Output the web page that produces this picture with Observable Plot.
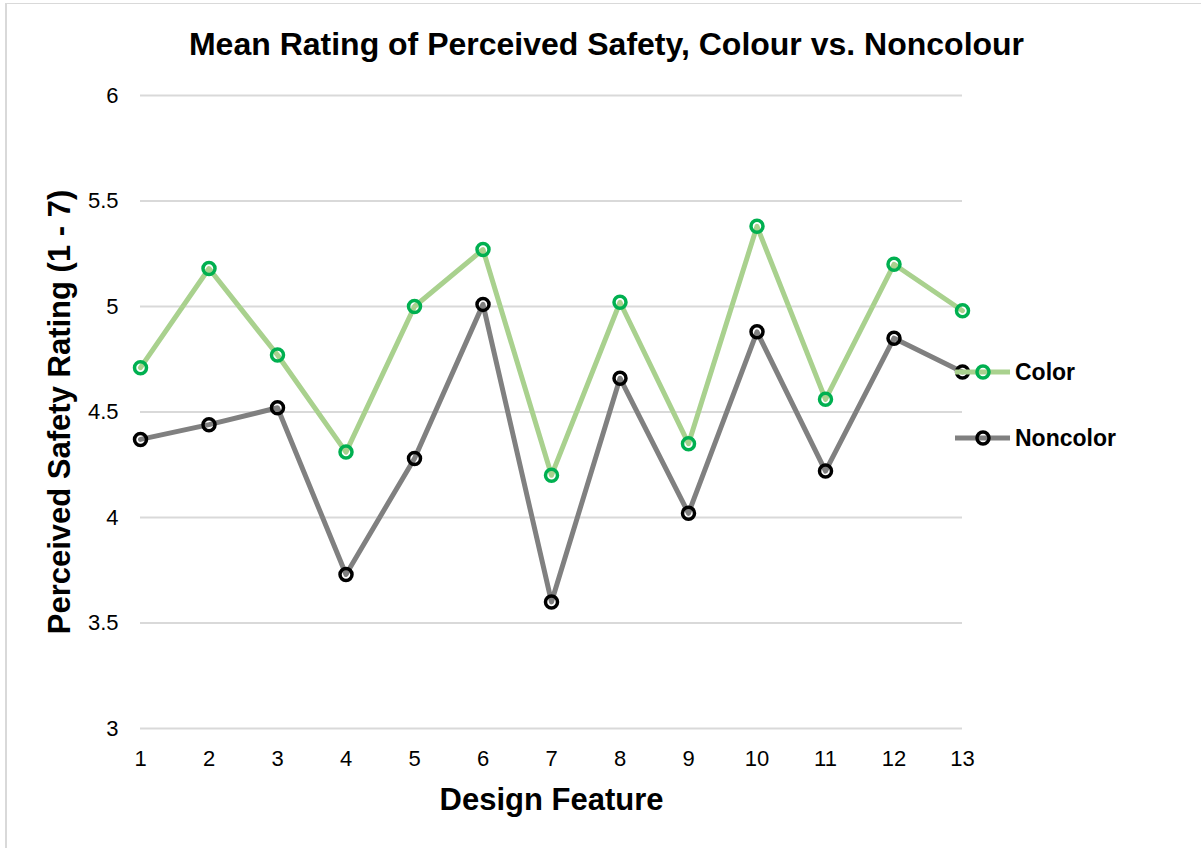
<!DOCTYPE html>
<html>
<head>
<meta charset="utf-8">
<script src="https://cdn.jsdelivr.net/npm/d3@7"></script>
<script src="https://cdn.jsdelivr.net/npm/@observablehq/plot@0.6"></script>
<style>
  html, body { margin: 0; padding: 0; background: #fff; }
  #chart { position: relative; width: 1201px; height: 848px; overflow: hidden;
           font-family: "Liberation Sans", Arial, Helvetica, sans-serif; }
  #frame { position: absolute; left: 5px; top: 3px; right: -10px; bottom: -10px;
           border-top: 1px solid #d9d9d9; border-left: 2px solid #d9d9d9; }
  #title { position: absolute; left: 0; width: 1213px; top: 26px; text-align: center;
           font-size: 32px; font-weight: bold; color: #000; line-height: 36px; }
  #plot { position: absolute; left: 0; top: 0; }
  #legend { position: absolute; left: 953px; top: 0; }
  .item { position: absolute; left: 0; display: flex; align-items: center; white-space: nowrap;
          font-size: 23px; font-weight: bold; color: #000; height: 30px; }
  .item svg { margin-right: 2px; }
</style>
</head>
<body>
<div id="chart">
  <div id="frame"></div>
  <div id="plot"></div>
  <div id="title">Mean Rating of Perceived Safety, Colour vs. Noncolour</div>
  <div id="legend"></div>
</div>
<script>
// Design features 1–13 and mean perceived-safety ratings (scale 1–7)
const features = [1, 2, 3, 4, 5, 6, 7, 8, 9, 10, 11, 12, 13];
const colorRatings    = [4.71, 5.18, 4.77, 4.31, 5.00, 5.27, 4.20, 5.02, 4.35, 5.38, 4.56, 5.20, 4.98];
const noncolorRatings = [4.37, 4.44, 4.52, 3.73, 4.28, 5.01, 3.60, 4.66, 4.02, 4.88, 4.22, 4.85, 4.69];
const yTicks = [3, 3.5, 4, 4.5, 5, 5.5, 6];

const series = [
  {name: "Color",    values: colorRatings,    line: "#a9d18e", marker: "#00b050"},
  {name: "Noncolor", values: noncolorRatings, line: "#808080", marker: "#000000"}
];

const rows = s => features.map((f, i) => ({feature: f, rating: s.values[i]}));

const marks = [
  Plot.gridY(yTicks, {stroke: "#d9d9d9", strokeOpacity: 1, strokeWidth: 2}),
  Plot.axisY(yTicks, {tickSize: 0, tickPadding: 22, fontSize: 22, label: null, tickFormat: d => String(d)}),
  Plot.axisX(features, {tickSize: 0, tickPadding: 22, fontSize: 22, label: null, tickFormat: d => String(d)}),
  Plot.text(["Perceived Safety Rating (1 - 7)"], {frameAnchor: "left", textAnchor: "middle", rotate: -90, dx: -80,
    fontSize: 31, fontWeight: "bold", fill: "#000"}),
  Plot.text(["Design Feature"], {frameAnchor: "bottom", dy: 81, fontSize: 31, fontWeight: "bold", fill: "#000"})
];
for (const s of series) {
  marks.push(Plot.line(rows(s), {x: "feature", y: "rating", stroke: s.line, strokeWidth: 5}));
  marks.push(Plot.dot(rows(s), {x: "feature", y: "rating", r: 6, fill: "none",
    stroke: s.marker, strokeWidth: 3.5}));
}

const chart = Plot.plot({
  width: 1201,
  height: 848,
  marginTop: 95,
  marginBottom: 120,
  marginLeft: 140,
  marginRight: 239,
  x: {domain: [1, 13], label: null, axis: null},
  y: {domain: [3, 6], label: null, axis: null},
  style: {fontFamily: '"Liberation Sans", Arial, Helvetica, sans-serif', color: "#000", background: "transparent", overflow: "visible"},
  marks
});
document.getElementById("plot").append(chart);

// Legend: a line sample with its marker, then the series name
const legendTops = [357, 423];
const legend = d3.select("#legend");
series.forEach((s, i) => {
  const item = legend.append("div").attr("class", "item").style("top", legendTops[i] + "px");
  const svg = item.append("svg").attr("width", 60).attr("height", 30);
  svg.append("line").attr("x1", 2).attr("x2", 57).attr("y1", 15).attr("y2", 15)
    .attr("stroke", s.line).attr("stroke-width", 5);
  svg.append("circle").attr("cx", 30).attr("cy", 15).attr("r", 6)
    .attr("fill", "none").attr("stroke", s.marker).attr("stroke-width", 3.5);
  item.append("span").text(s.name);
});
</script>
</body>
</html>
